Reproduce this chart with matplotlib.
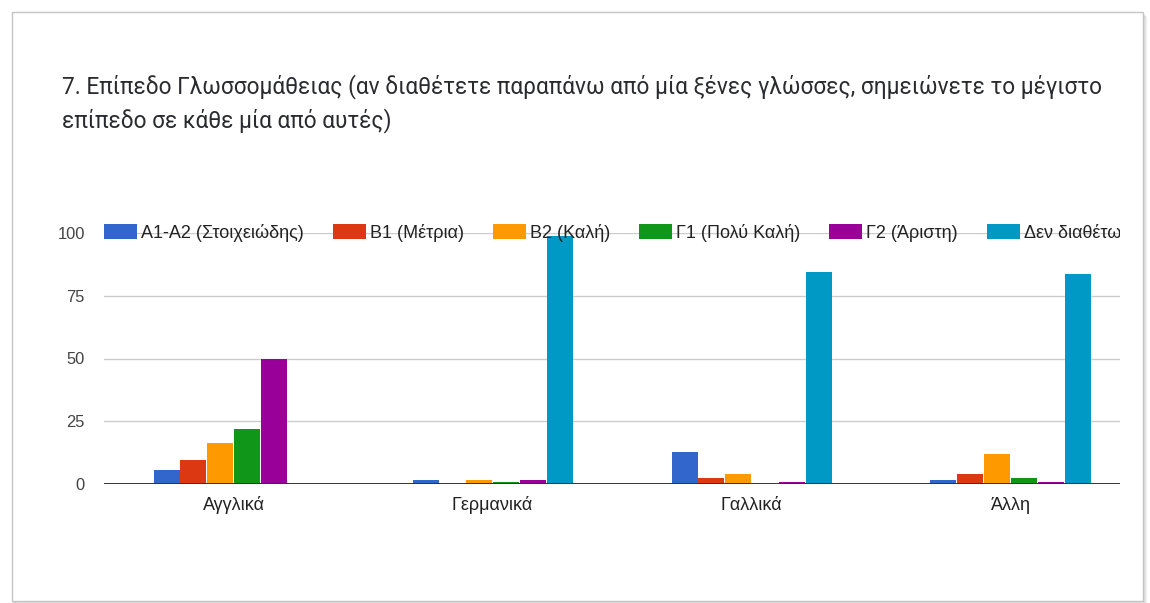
import matplotlib
matplotlib.use("Agg")
import matplotlib.pyplot as plt
import numpy as np
from matplotlib.patches import Rectangle, Patch
from matplotlib.transforms import Bbox

# --- data -------------------------------------------------------------
categories = ['Αγγλικά', 'Γερμανικά', 'Γαλλικά', 'Άλλη']
levels = ['Α1-Α2 (Στοιχειώδης)', 'Β1 (Μέτρια)', 'Β2 (Καλή)',
          'Γ1 (Πολύ Καλή)', 'Γ2 (Άριστη)', 'Δεν διαθέτω']
a1_a2 = [5.6, 1.6, 12.6, 1.6]
b1 = [9.6, 0, 2.5, 3.9]
b2 = [16.5, 1.6, 3.9, 12.0]
g1 = [21.8, 0.8, 0, 2.4]
g2 = [50.0, 1.6, 0.9, 0.9]
none = [0, 98.8, 84.6, 83.5]
y_ticks = [0, 25, 50, 75, 100]

series = [a1_a2, b1, b2, g1, g2, none]
colors = ['#3366cc', '#dc3912', '#ff9900', '#109618', '#990099', '#0099c6']

title = ("7. Επίπεδο Γλωσσομάθειας (αν διαθέτετε παραπάνω από μία ξένες γλώσσες, "
         "σημειώνετε το μέγιστο\nεπίπεδο σε κάθε μία από αυτές)")

# --- figure -----------------------------------------------------------
W, H = 1150, 603
fig = plt.figure(figsize=(W / 100, H / 100), dpi=100)
fig.patch.set_facecolor('white')

def fx(px):
    return px / W

def fy(py):
    return 1 - py / H

# card outline with a soft shadow
for off, a in [(3, 0.10), (2, 0.18), (1, 0.30)]:
    fig.patches.append(Rectangle((fx(12 + off), fy(601 + off)), fx(1131), (599 - 12) / H,
                                 transform=fig.transFigure, fill=False,
                                 edgecolor='#9a9a9a', alpha=a, lw=1.0, zorder=-2))
fig.patches.append(Rectangle((fx(12), fy(601)), fx(1131), (601 - 12) / H,
                             transform=fig.transFigure, facecolor='white',
                             edgecolor='#c4c4c4', lw=1.0, zorder=-1))

fig.text(fx(62), fy(103.5), title, ha='left', va='center', fontsize=16.3,
         family='Roboto', color='#2a2b2e', linespacing=1.45)

ax_left, ax_right, ax_top, ax_bot = 104, 1120, 233, 484
ax = fig.add_axes([fx(ax_left), fy(ax_bot), fx(ax_right - ax_left), (ax_bot - ax_top) / H])
ax.set_facecolor('none')

group_step_px = 259
x = np.arange(len(categories))
step = 26.8 / group_step_px
width = 26.0 / group_step_px
for i, (vals, col, lab) in enumerate(zip(series, colors, levels)):
    ax.bar(x + (i - 2.5) * step, vals, width=width, color=col, label=lab,
           zorder=3, linewidth=0)

ax.set_xlim(-0.5, -0.5 + (ax_right - ax_left) / group_step_px)
ax.set_ylim(0, 100)
ax.set_yticks(y_ticks)
ax.set_xticks(x)
ax.set_xticklabels(categories)
ax.grid(axis='y', color='#cccccc', lw=1.0, zorder=0)
ax.axhline(0, color='#333333', lw=1.4, zorder=4)
for s in ax.spines.values():
    s.set_visible(False)
ax.tick_params(axis='y', length=0, pad=13.7, labelsize=11.9, labelcolor='#444444')
ax.tick_params(axis='x', length=0, pad=9, labelsize=13, labelcolor='#222222')
for t in ax.get_yticklabels() + ax.get_xticklabels():
    t.set_family('Liberation Sans')

fs = 13
fs_px = fs * 100 / 72
handles = [Patch(facecolor=c, edgecolor='none') for c in colors]
leg = ax.legend(handles, levels, loc='center left', bbox_to_anchor=(0, 1.0),
                ncol=6, frameon=False, borderpad=0, borderaxespad=0,
                handlelength=33 / fs_px, handleheight=16 / fs_px,
                handletextpad=4 / fs_px, columnspacing=29 / fs_px,
                prop={'family': 'Liberation Sans', 'size': fs})
for t in leg.get_texts():
    t.set_color('#222222')

# legend text runs past the plot area on the right and is cut there
fig.canvas.draw()
clip = Bbox.from_extents(0, 0, ax_right, H)
for t in leg.get_texts():
    t.set_clip_box(clip)
    t.set_clip_on(True)

fig.savefig('out.png', dpi=100, facecolor='white')
